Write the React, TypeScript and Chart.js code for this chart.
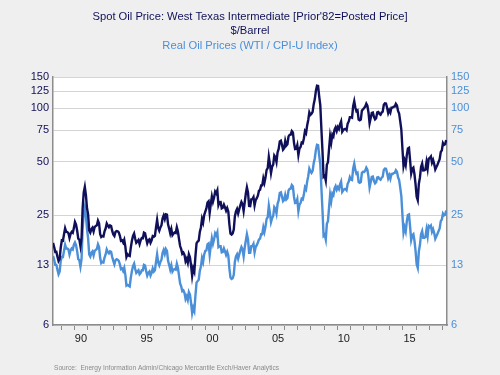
import React, { useEffect, useRef } from "react";
import { Chart, registerables } from "chart.js";

Chart.register(...registerables);

// Monthly data, first point = May 1988
const firstYear = 1988;
const firstMonthIndex = 4; // May (0-based)

// Spot WTI, $/barrel (monthly)
const wtiNominal: number[] = [
  // 1988 May-Dec
  17.42, 16.53, 15.5, 15.52, 14.54, 13.77, 14.14, 16.38,
  // 1989
  18.02, 17.94, 19.48, 21.07, 20.12, 20.05, 19.78, 18.58, 19.59, 20.1, 19.86, 21.1,
  // 1990
  22.86, 22.11, 20.39, 18.43, 18.2, 16.7, 18.45, 27.31, 33.51, 36.04, 32.33, 27.28,
  // 1991
  25.23, 20.48, 19.9, 20.83, 21.23, 20.19, 21.4, 21.69, 21.89, 23.23, 22.46, 19.5,
  // 1992
  18.79, 19.01, 18.92, 20.23, 20.98, 22.39, 21.78, 21.34, 21.88, 21.69, 20.34, 19.41,
  // 1993
  19.03, 20.09, 20.32, 20.25, 19.95, 19.09, 17.89, 18.01, 17.5, 18.15, 16.61, 14.52,
  // 1994
  15.03, 14.78, 14.68, 16.42, 17.89, 19.06, 19.66, 18.38, 17.45, 17.72, 18.07, 17.16,
  // 1995
  18.04, 18.57, 18.54, 19.9, 19.74, 18.45, 17.33, 18.02, 18.23, 17.43, 17.99, 19.03,
  // 1996
  18.85, 19.09, 21.33, 23.5, 21.17, 20.42, 21.3, 21.9, 23.97, 24.88, 23.71, 25.23,
  // 1997
  25.13, 22.18, 20.97, 19.7, 20.82, 19.26, 19.66, 19.95, 19.8, 21.33, 20.19, 18.33,
  // 1998
  16.72, 16.06, 15.12, 15.35, 14.91, 13.72, 14.17, 13.47, 15.03, 14.46, 13.0, 11.35,
  // 1999
  12.52, 12.01, 14.68, 17.31, 17.72, 17.92, 20.1, 21.28, 23.8, 22.69, 25.0, 26.1,
  // 2000
  27.26, 29.37, 29.84, 25.72, 28.79, 31.82, 29.7, 31.26, 33.88, 33.11, 34.42, 28.44,
  // 2001
  29.59, 29.61, 27.25, 27.49, 28.63, 27.6, 26.43, 27.37, 26.2, 22.17, 19.64, 19.39,
  // 2002
  19.72, 20.72, 24.53, 26.18, 27.04, 25.52, 26.97, 28.39, 29.66, 28.84, 26.35, 29.46,
  // 2003
  32.95, 35.83, 33.51, 28.17, 28.11, 30.66, 30.76, 31.57, 28.31, 30.34, 31.11, 32.13,
  // 2004
  34.31, 34.69, 36.74, 36.75, 40.28, 38.03, 40.78, 44.9, 45.94, 53.28, 48.47, 43.15,
  // 2005
  46.84, 48.15, 54.19, 52.98, 49.83, 56.35, 59.0, 64.99, 65.59, 62.26, 58.32, 59.41,
  // 2006
  65.49, 61.63, 62.69, 69.44, 70.84, 70.95, 74.41, 73.04, 63.8, 58.89, 59.08, 61.96,
  // 2007
  54.51, 59.28, 60.44, 63.98, 63.46, 67.49, 74.12, 72.36, 79.92, 85.8, 94.77, 91.69,
  // 2008
  92.97, 95.39, 105.45, 112.58, 125.4, 133.88, 133.37, 116.67, 104.11, 76.61, 57.31, 41.12,
  // 2009
  41.71, 39.09, 47.94, 49.65, 59.03, 69.64, 64.15, 71.05, 69.41, 75.72, 77.99, 74.47,
  // 2010
  78.33, 76.39, 81.2, 84.29, 73.74, 75.34, 76.32, 76.6, 75.24, 81.89, 84.25, 89.15,
  // 2011
  89.17, 88.58, 102.86, 109.53, 100.9, 96.26, 97.3, 86.33, 85.52, 86.32, 97.16, 98.56,
  // 2012
  100.27, 102.2, 106.16, 103.32, 94.66, 82.3, 87.9, 94.13, 94.51, 89.49, 86.53, 87.86,
  // 2013
  94.76, 95.31, 92.94, 92.02, 94.51, 95.77, 104.67, 106.57, 106.29, 100.54, 93.86, 97.63,
  // 2014
  94.62, 100.82, 100.8, 102.07, 102.18, 105.79, 103.59, 96.54, 93.21, 84.4, 75.79, 59.29,
  // 2015
  47.22, 50.58, 47.82, 54.45, 59.27, 59.82, 50.9, 42.87, 45.48, 46.22, 42.44, 37.19,
  // 2016
  31.68, 30.32, 37.55, 40.75, 46.71, 48.76, 44.65, 44.72, 45.18, 49.78, 45.66, 51.97,
  // 2017
  52.5, 53.47, 49.33, 51.06, 48.48, 45.18, 46.63, 48.04, 49.82, 51.58, 56.64, 57.88,
  // 2018 Jan-Apr
  63.7, 62.23, 62.72, 66.25,
];

// Real oil price, WTI / CPI-U index (monthly)
const wtiReal: number[] = [
  // 1988 May-Dec
  14.7, 14.0, 13.1, 13.1, 12.3, 11.6, 12.0, 13.8,
  // 1989
  14.5, 14.5, 15.7, 17.0, 16.2, 16.2, 16.0, 15.0, 15.8, 16.2, 16.0, 17.0,
  // 1990
  17.5, 16.9, 15.6, 14.1, 13.9, 12.8, 14.1, 20.9, 25.6, 27.6, 24.7, 20.9,
  // 1991
  18.5, 15.0, 14.6, 15.3, 15.6, 14.8, 15.7, 15.9, 16.1, 17.1, 16.5, 14.3,
  // 1992
  13.4, 13.6, 13.5, 14.4, 15.0, 16.0, 15.5, 15.2, 15.6, 15.5, 14.5, 13.8,
  // 1993
  13.2, 13.9, 14.1, 14.0, 13.8, 13.2, 12.4, 12.5, 12.1, 12.6, 11.5, 10.0,
  // 1994
  10.1, 10.0, 9.9, 11.1, 12.1, 12.9, 13.3, 12.4, 11.8, 12.0, 12.2, 11.6,
  // 1995
  11.8, 12.2, 12.2, 13.1, 13.0, 12.1, 11.4, 11.8, 12.0, 11.4, 11.8, 12.5,
  // 1996
  12.0, 12.2, 13.6, 15.0, 13.5, 13.0, 13.6, 14.0, 15.3, 15.9, 15.1, 16.1,
  // 1997
  15.7, 13.8, 13.1, 12.3, 13.0, 12.0, 12.3, 12.4, 12.3, 13.3, 12.6, 11.4,
  // 1998
  10.3, 9.9, 9.3, 9.4, 9.1, 8.4, 8.7, 8.3, 9.2, 8.9, 8.0, 7.0,
  // 1999
  7.5, 7.2, 8.8, 10.4, 10.6, 10.8, 12.1, 12.8, 14.3, 13.6, 15.0, 15.7,
  // 2000
  15.8, 17.1, 17.3, 14.9, 16.7, 18.5, 17.2, 18.2, 19.7, 19.2, 20.0, 16.5,
  // 2001
  16.7, 16.7, 15.4, 15.5, 16.2, 15.6, 14.9, 15.5, 14.8, 12.5, 11.1, 10.9,
  // 2002
  11.0, 11.5, 13.6, 14.6, 15.0, 14.2, 15.0, 15.8, 16.5, 16.0, 14.6, 16.4,
  // 2003
  17.9, 19.5, 18.2, 15.3, 15.3, 16.7, 16.7, 17.2, 15.4, 16.5, 16.9, 17.5,
  // 2004
  18.2, 18.4, 19.5, 19.5, 21.3, 20.1, 21.6, 23.8, 24.3, 28.2, 25.7, 22.8,
  // 2005
  24.0, 24.7, 27.7, 27.1, 25.5, 28.9, 30.2, 33.3, 33.6, 31.9, 29.9, 30.4,
  // 2006
  32.5, 30.6, 31.1, 34.4, 35.1, 35.2, 36.9, 36.2, 31.6, 29.2, 29.3, 30.7,
  // 2007
  26.3, 28.6, 29.2, 30.9, 30.6, 32.6, 35.8, 34.9, 38.6, 41.4, 45.7, 44.2,
  // 2008
  43.2, 44.3, 49.0, 52.3, 58.2, 62.2, 61.9, 54.2, 48.4, 35.6, 26.6, 19.1,
  // 2009
  19.4, 18.2, 22.3, 23.1, 27.5, 32.5, 29.9, 33.1, 32.4, 35.3, 36.4, 34.7,
  // 2010
  35.9, 35.0, 37.2, 38.6, 33.8, 34.5, 35.0, 35.1, 34.5, 37.5, 38.6, 40.9,
  // 2011
  39.6, 39.4, 45.7, 48.7, 44.9, 42.8, 43.3, 38.4, 38.0, 38.4, 43.2, 43.8,
  // 2012
  43.7, 44.5, 46.2, 45.0, 41.2, 35.8, 38.3, 41.0, 41.2, 39.0, 37.7, 38.3,
  // 2013
  40.7, 40.9, 39.9, 39.5, 40.6, 41.1, 44.9, 45.7, 45.6, 43.2, 40.3, 41.9,
  // 2014
  40.0, 42.6, 42.6, 43.1, 43.2, 44.7, 43.8, 40.8, 39.4, 35.7, 32.0, 25.1,
  // 2015
  19.9, 21.3, 20.2, 23.0, 25.0, 25.2, 21.5, 18.1, 19.2, 19.5, 17.9, 15.7,
  // 2016
  13.2, 12.6, 15.6, 17.0, 19.5, 20.3, 18.6, 18.6, 18.8, 20.7, 19.0, 21.7,
  // 2017
  21.4, 21.8, 20.1, 20.8, 19.8, 18.4, 19.0, 19.6, 20.3, 21.0, 23.1, 23.6,
  // 2018 Jan-Apr
  25.5, 24.9, 25.1, 26.5,
];

const yTicks = [6, 13, 25, 50, 75, 100, 125, 150];
const xYearTicks = [
  1989, 1990, 1991, 1992, 1993, 1994, 1995, 1996, 1997, 1998, 1999, 2000, 2001, 2002, 2003,
  2004, 2005, 2006, 2007, 2008, 2009, 2010, 2011, 2012, 2013, 2014, 2015, 2016, 2017, 2018,
];
const xLabelYears = [1990, 1995, 2000, 2005, 2010, 2015];

const titleLine1 = "Spot Oil Price: West Texas Intermediate [Prior'82=Posted Price]";
const titleLine2 = "$/Barrel";
const titleLine3 = "Real Oil Prices (WTI / CPI-U Index)";
const sourceText = "Source:  Energy Information Admin/Chicago Mercantile Exch/Haver Analytics";

const NAVY = "#10105a";
const BLUE = "#4a8fd8";
const FONT = '"Liberation Sans", Arial, Helvetica, sans-serif';

function toPoints(values: number[]) {
  return values.map((v, i) => ({
    x: firstYear + (firstMonthIndex + i + 0.5) / 12,
    y: v,
  }));
}

export default function App() {
  const ref = useRef<HTMLCanvasElement | null>(null);

  useEffect(() => {
    if (!ref.current) return;

    const bgPlugin = {
      id: "bgPlugin",
      beforeDraw(chart: any) {
        const { ctx, chartArea } = chart;
        ctx.save();
        ctx.fillStyle = "#efefef";
        ctx.fillRect(0, 0, chart.width, chart.height);
        ctx.fillStyle = "#ffffff";
        ctx.fillRect(
          chartArea.left,
          chartArea.top,
          chartArea.right - chartArea.left,
          chartArea.bottom - chartArea.top
        );
        ctx.restore();
      },
      afterDraw(chart: any) {
        const { ctx } = chart;
        ctx.save();
        ctx.textAlign = "center";
        ctx.textBaseline = "middle";
        ctx.font = `11.2px ${FONT}`;
        ctx.fillStyle = NAVY;
        ctx.fillText(titleLine1, 250, 17);
        ctx.fillText(titleLine2, 250, 31);
        ctx.fillStyle = BLUE;
        ctx.fillText(titleLine3, 250, 45.5);
        ctx.textAlign = "left";
        ctx.font = `6.6px ${FONT}`;
        ctx.fillStyle = "#8a8a8a";
        ctx.fillText(sourceText, 54, 368.5);
        ctx.restore();
      },
    };

    const yCommon = {
      type: "logarithmic" as const,
      min: 6,
      max: 150,
      afterBuildTicks(scale: any) {
        scale.ticks = yTicks.map((v) => ({ value: v }));
      },
      afterFit(scale: any) {
        scale.width = 53;
      },
    };

    const chart = new Chart(ref.current, {
      type: "line",
      data: {
        datasets: [
          {
            label: "WTI",
            data: toPoints(wtiNominal),
            borderColor: NAVY,
            borderWidth: 2.4,
            pointRadius: 0,
            tension: 0,
            yAxisID: "y",
          },
          {
            label: "Real",
            data: toPoints(wtiReal),
            borderColor: BLUE,
            borderWidth: 2.4,
            pointRadius: 0,
            tension: 0,
            yAxisID: "y",
          },
        ],
      },
      options: {
        responsive: false,
        animation: false,
        devicePixelRatio: 1,
        layout: { padding: { top: 77, bottom: 30, left: 0, right: 0 } },
        plugins: {
          legend: { display: false },
          title: { display: false },
          tooltip: { enabled: false },
        },
        scales: {
          x: {
            type: "linear",
            min: 1988.37,
            max: 2018.35,
            afterBuildTicks(scale: any) {
              scale.ticks = xYearTicks.map((v) => ({ value: v }));
            },
            afterFit(scale: any) {
              scale.height = 20;
            },
            grid: {
              drawOnChartArea: false,
              drawTicks: true,
              tickLength: 5,
              color: "#8c8c8c",
            },
            border: { color: "#8c8c8c", width: 1.5 },
            ticks: {
              autoSkip: false,
              maxRotation: 0,
              minRotation: 0,
              padding: 2,
              labelOffset: 6.57,
              color: "#1a1a1a",
              font: { family: FONT, size: 11 },
              callback: (v: any) =>
                xLabelYears.includes(Number(v)) ? String(Number(v) % 100).padStart(2, "0") : "",
            },
          },
          y: {
            ...yCommon,
            position: "left",
            grid: { color: "#d4d4d4", lineWidth: 1, drawTicks: false },
            border: { color: "#8c8c8c", width: 1.5 },
            ticks: {
              padding: 4,
              color: NAVY,
              font: { family: FONT, size: 11 },
              callback: (v: any) => String(v),
            },
          },
          y2: {
            ...yCommon,
            position: "right",
            grid: { drawOnChartArea: false, drawTicks: false },
            border: { color: "#8c8c8c", width: 1.5 },
            ticks: {
              padding: 4,
              color: BLUE,
              font: { family: FONT, size: 11 },
              callback: (v: any) => String(v),
            },
          },
        },
      },
      plugins: [bgPlugin],
    });

    return () => chart.destroy();
  }, []);

  return (
    <div
      style={{
        position: "fixed",
        left: 0,
        top: 0,
        width: 500,
        height: 375,
        background: "#efefef",
      }}
    >
      <canvas ref={ref} width={500} height={375} style={{ display: "block" }} />
    </div>
  );
}
